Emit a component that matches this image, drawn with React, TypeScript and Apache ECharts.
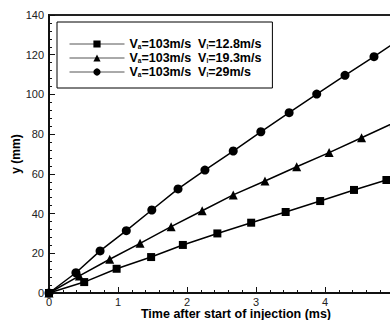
import React, { useEffect, useRef } from "react";
import * as echarts from "echarts";

const xTicks = [0, 1, 2, 3, 4, 5];
const yTicks = [0, 20, 40, 60, 80, 100, 120, 140];

const vAir = "103m/s";
const vLiquid = ["12.8m/s", "19.3m/s", "29m/s"];

const sqT = [0, 0.51, 0.98, 1.48, 1.94, 2.44, 2.93, 3.43, 3.93, 4.42, 4.89];
const sqY = [0, 5.5, 12.2, 18.1, 24.2, 30.0, 35.4, 40.8, 46.3, 51.9, 56.9];

const triT = [0, 0.44, 0.88, 1.32, 1.77, 2.22, 2.67, 3.13, 3.59, 4.06, 4.53, 5.0];
const triY = [0, 8.6, 17.0, 25.0, 33.4, 41.4, 49.4, 56.4, 63.6, 70.7, 78.2, 85.7];

const cirT = [0, 0.39, 0.74, 1.12, 1.49, 1.87, 2.26, 2.67, 3.07, 3.48, 3.88, 4.29, 4.71, 5.12];
const cirY = [0, 10.2, 21.2, 31.4, 41.8, 52.4, 61.9, 71.5, 81.2, 90.8, 100.2, 109.6, 119, 128.6];

const FONT = "'Liberation Sans', Arial, sans-serif";

export default function App() {
  const ref = useRef<HTMLDivElement>(null);
  useEffect(() => {
    document.body.style.margin = "0";
    const chart = echarts.init(ref.current!, null, { renderer: "svg" });
    const pair = (t: number[], y: number[]) => t.map((v, i) => [v, y[i]]);
    const names = vLiquid.map((v) => "Vl=" + v);
    const mk = (i: number, t: number[], y: number[], symbol: string, size: number) => ({
      name: names[i],
      type: "line",
      data: pair(t, y),
      symbol,
      symbolSize: size,
      showAllSymbol: true,
      clip: true,
      itemStyle: { color: "#000" },
      lineStyle: { color: "#000", width: 1.5 },
    });
    chart.setOption({
      animation: false,
      textStyle: { fontFamily: FONT },
      grid: {
        left: 49,
        top: 15,
        width: 345,
        height: 278,
        outerBoundsMode: "none",
        containLabel: false,
        show: true,
        borderColor: "#222",
        borderWidth: 2,
        backgroundColor: "transparent",
      },
      legend: {
        orient: "vertical",
        left: 57,
        top: 22,
        width: 240,
        borderColor: "#000",
        borderWidth: 1,
        borderRadius: 0,
        padding: [15, 11, 10, 12],
        itemWidth: 55,
        itemHeight: 9,
        itemGap: 1,
        itemTextGap: 12,
        itemStyle: { color: "#000" },
        lineStyle: { color: "#555", width: 1 },
        data: names,
        formatter: (name: string) => {
          const vl = name.replace("Vl=", "");
          return `{b|V}{s|a}{b|=${vAir}  V}{s|l}{b|=${vl}}`;
        },
        textStyle: {
          fontFamily: FONT,
          rich: {
            b: { fontSize: 12.5, fontWeight: "bold", color: "#000", fontFamily: FONT, lineHeight: 12, verticalAlign: "bottom" },
            s: { fontSize: 6.5, fontWeight: "bold", color: "#000", fontFamily: FONT, lineHeight: 7, verticalAlign: "bottom", padding: [4, 0, 0, 0] },
          },
        },
      },
      xAxis: {
        type: "value",
        min: xTicks[0],
        max: xTicks[xTicks.length - 1],
        interval: 1,
        name: "Time after start of injection (ms)",
        nameLocation: "middle",
        nameGap: 14,
        nameMoveOverlap: false,
        nameTextStyle: { fontSize: 12.5, fontWeight: "bold", color: "#000", fontFamily: FONT, padding: [0, 0, 0, 29] },
        axisLine: { show: true, onZero: false, lineStyle: { color: "#111", width: 2 } },
        axisTick: { show: true, inside: true, length: 6, lineStyle: { color: "#111", width: 1 } },
        minorTick: { show: true, splitNumber: 5, length: 3, lineStyle: { color: "#111", width: 1 } },
        splitLine: { show: false },
        axisLabel: { fontSize: 11, color: "#222", margin: 3, fontFamily: FONT, showMaxLabel: false },
      },
      yAxis: {
        type: "value",
        min: yTicks[0],
        max: yTicks[yTicks.length - 1],
        interval: 20,
        name: "y (mm)",
        nameLocation: "middle",
        nameGap: 27,
        nameMoveOverlap: false,
        nameTextStyle: { fontSize: 12, fontWeight: "bold", color: "#000", fontFamily: FONT },
        axisLine: { show: true, onZero: false, lineStyle: { color: "#111", width: 2 } },
        axisTick: { show: true, inside: true, length: 6, lineStyle: { color: "#111", width: 1 } },
        minorTick: { show: true, splitNumber: 5, length: 3, lineStyle: { color: "#111", width: 1 } },
        splitLine: { show: false },
        axisLabel: { fontSize: 11, color: "#222", margin: 5, fontFamily: FONT },
      },
      series: [
        mk(0, sqT, sqY, "rect", 8),
        mk(1, triT, triY, "triangle", 9),
        mk(2, cirT, cirY, "circle", 9),
      ],
    });
    return () => chart.dispose();
  }, []);
  return <div ref={ref} style={{ width: 390, height: 320 }} />;
}
